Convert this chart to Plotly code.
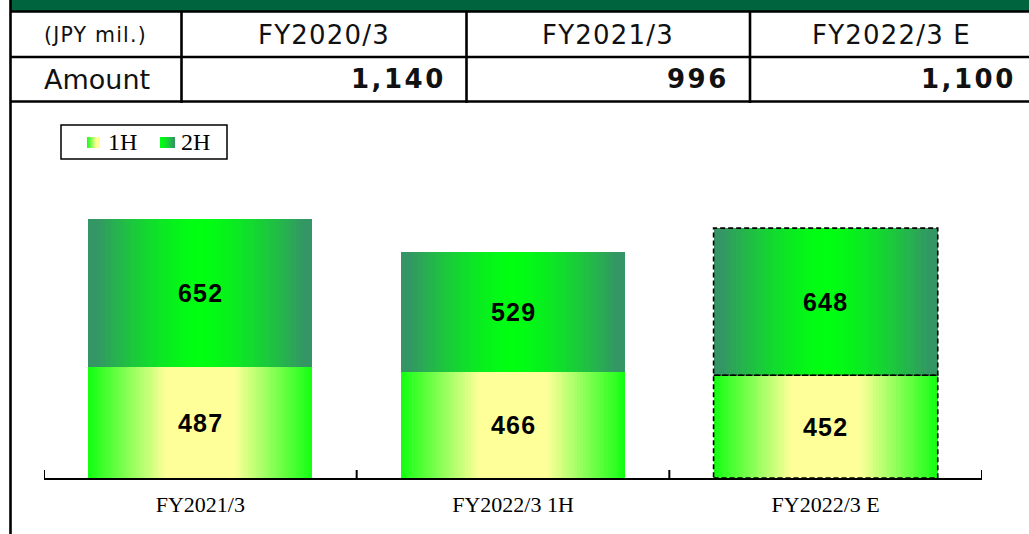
import plotly.graph_objects as go

# ---------------- data ----------------
categories = ["FY2021/3", "FY2022/3 1H", "FY2022/3 E"]
first_half = [487, 466, 452]
second_half = [652, 529, 648]
series_names = ["1H", "2H"]

table_corner = "(JPY mil.)"
table_years = ["FY2020/3", "FY2021/3", "FY2022/3 E"]
table_row_label = "Amount"
table_amounts = [1140, 996, 1100]

# ---------------- geometry helpers ----------------
W_PX, H_PX = 1029, 534


def px_x(x):
    return x / W_PX


def px_y(y):
    return 1 - y / H_PX


def lerp(c1, c2, t):
    return tuple(round(a + (b - a) * t) for a, b in zip(c1, c2))


def rgb(c):
    return "rgb(%d,%d,%d)" % c


H1_CENTER, H1_EDGE = (255, 255, 153), (17, 255, 17)
H2_CENTER, H2_EDGE = (0, 255, 17), (52, 150, 100)


def col_1h(d):
    t = min(max((d - 0.3) / 0.7, 0), 1)
    return lerp(H1_CENTER, H1_EDGE, t)


def col_2h(d):
    t = min(max(d / 0.92, 0), 1) ** 1.5
    return lerp(H2_CENTER, H2_EDGE, t)


BAR_W = 0.717
N_LAYERS = 40
totals = [a + b for a, b in zip(first_half, second_half)]

fig = go.Figure()

# gradient bars built from overlaid, progressively narrower bars
for seg, (vals, bases, cfun) in enumerate([
    (first_half, [0] * len(first_half), col_1h),
    (second_half, first_half, col_2h),
]):
    for i in range(N_LAYERS):
        f = 1 - i / N_LAYERS
        d = 1 - (i + 0.5) / N_LAYERS
        fig.add_trace(go.Bar(
            x=categories, y=vals, base=bases,
            width=BAR_W * f,
            marker=dict(color=rgb(cfun(d)), line=dict(width=0)),
            name=series_names[seg], showlegend=False, hoverinfo="skip",
        ))

annotations = []
shapes = []

# value labels inside bars
for idx, c in enumerate(categories):
    for val, base in [(first_half[idx], 0), (second_half[idx], first_half[idx])]:
        annotations.append(dict(
            x=c, y=base + val / 2, xref="x", yref="y", showarrow=False,
            text='<span style="letter-spacing:1.2px">%d</span>' % val,
            font=dict(family="Liberation Sans", size=25, color="black", weight="bold"),
            xanchor="center", yanchor="middle",
        ))

# dashed outline for estimate bar
for idx, c in enumerate(categories):
    if c.endswith(" E"):
        for y0, y1 in [(0, first_half[idx]), (first_half[idx], totals[idx])]:
            shapes.append(dict(
                type="rect", xref="x", yref="y",
                x0=idx - BAR_W / 2, x1=idx + BAR_W / 2, y0=y0, y1=y1,
                line=dict(color="black", width=1.6, dash="5px,3px"),
                fillcolor="rgba(0,0,0,0)", layer="above",
            ))

# category boundary ticks (pointing up from the axis)
AXIS_Y = 478
for k in range(len(categories) + 1):
    shapes.append(dict(type="line", xref="x", yref="paper",
                       x0=k - 0.5, x1=k - 0.5, y0=px_y(AXIS_Y), y1=px_y(AXIS_Y - 8),
                       line=dict(color="black", width=2)))

# ---------------- table at top ----------------
LINE = dict(color="black", width=2.6)
shapes.append(dict(type="rect", xref="paper", yref="paper",
                   x0=px_x(10), x1=px_x(1029), y0=px_y(0), y1=px_y(11.5),
                   fillcolor="#00643F", line=dict(width=0), layer="below"))
for yy in [11.5, 57, 101.5]:
    shapes.append(dict(type="line", xref="paper", yref="paper",
                       x0=px_x(10), x1=px_x(1029), y0=px_y(yy), y1=px_y(yy), line=LINE))
shapes.append(dict(type="line", xref="paper", yref="paper",
                   x0=px_x(10.5), x1=px_x(10.5), y0=px_y(0), y1=px_y(534), line=LINE))
col_edges = [10, 181.5, 466.5, 750, 1037]
for xx in col_edges[1:4]:
    shapes.append(dict(type="line", xref="paper", yref="paper",
                       x0=px_x(xx), x1=px_x(xx), y0=px_y(11.5), y1=px_y(103), line=LINE))

header_texts = [table_corner] + table_years
for j, txt in enumerate(header_texts):
    cx = (col_edges[j] + col_edges[j + 1]) / 2
    if j == 3:
        cx = 891
    size = 20.5 if j == 0 else 26
    annotations.append(dict(
        x=px_x(cx), y=px_y(35), xref="paper", yref="paper", showarrow=False,
        text='<span style="letter-spacing:1.2px">%s</span>' % txt,
        font=dict(family="DejaVu Sans", size=size, color="#111111"),
        xanchor="center", yanchor="middle",
    ))
annotations.append(dict(
    x=px_x(97), y=px_y(79), xref="paper", yref="paper", showarrow=False,
    text=table_row_label, font=dict(family="DejaVu Sans", size=27, color="#111111"),
    xanchor="center", yanchor="middle",
))
for j, amt in enumerate(table_amounts):
    annotations.append(dict(
        x=px_x(col_edges[j + 2] - 19), y=px_y(79), xref="paper", yref="paper", showarrow=False,
        text='<span style="letter-spacing:2.5px">{:,}</span>'.format(amt),
        font=dict(family="DejaVu Sans", size=26, color="#111111", weight="bold"),
        xanchor="right", yanchor="middle",
    ))

# ---------------- custom legend ----------------
shapes.append(dict(type="rect", xref="paper", yref="paper",
                   x0=px_x(61), x1=px_x(227), y0=px_y(125), y1=px_y(159),
                   line=dict(color="black", width=1.5), fillcolor="white", layer="below"))
for (x0, x1, cfun, reverse) in [(87, 100, col_1h, False), (160, 175, col_2h, True)]:
    n = x1 - x0
    for k in range(n):
        d = 1 - (k + 0.5) / n
        if reverse:
            d = 1 - d
        shapes.append(dict(type="rect", xref="paper", yref="paper",
                           x0=px_x(x0 + k), x1=px_x(x0 + k + 1.05), y0=px_y(137), y1=px_y(148),
                           fillcolor=rgb(cfun(d)), line=dict(width=0)))
for name, lx in zip(series_names, [106, 179]):
    annotations.append(dict(
        x=px_x(lx), y=px_y(142.5), xref="paper", yref="paper", showarrow=False,
        text=name, font=dict(family="Liberation Serif", size=24, color="black"),
        xanchor="left", yanchor="middle",
    ))

Y_MAX = (AXIS_Y - 160) / 0.2272

fig.update_layout(
    width=W_PX, height=H_PX, autosize=False,
    margin=dict(l=0, r=0, t=0, b=0, pad=0),
    paper_bgcolor="white", plot_bgcolor="white",
    barmode="overlay", bargap=0,
    showlegend=False,
    annotations=annotations, shapes=shapes,
    xaxis=dict(
        type="category", domain=[px_x(44), px_x(982)], range=[-0.5, 2.5],
        showline=True, linecolor="black", linewidth=2,
        ticks="",
        tickfont=dict(family="Liberation Serif", size=22, color="black"),
        ticklabelstandoff=6,
        showgrid=False, zeroline=False, fixedrange=True,
    ),
    yaxis=dict(
        domain=[px_y(AXIS_Y), px_y(160)], range=[0, Y_MAX],
        visible=False, showgrid=False, zeroline=False, fixedrange=True,
    ),
)

fig.write_html(
    "out.html",
    config={"displayModeBar": False},
    post_script="document.body.style.margin='0';document.body.style.overflow='hidden';",
)
